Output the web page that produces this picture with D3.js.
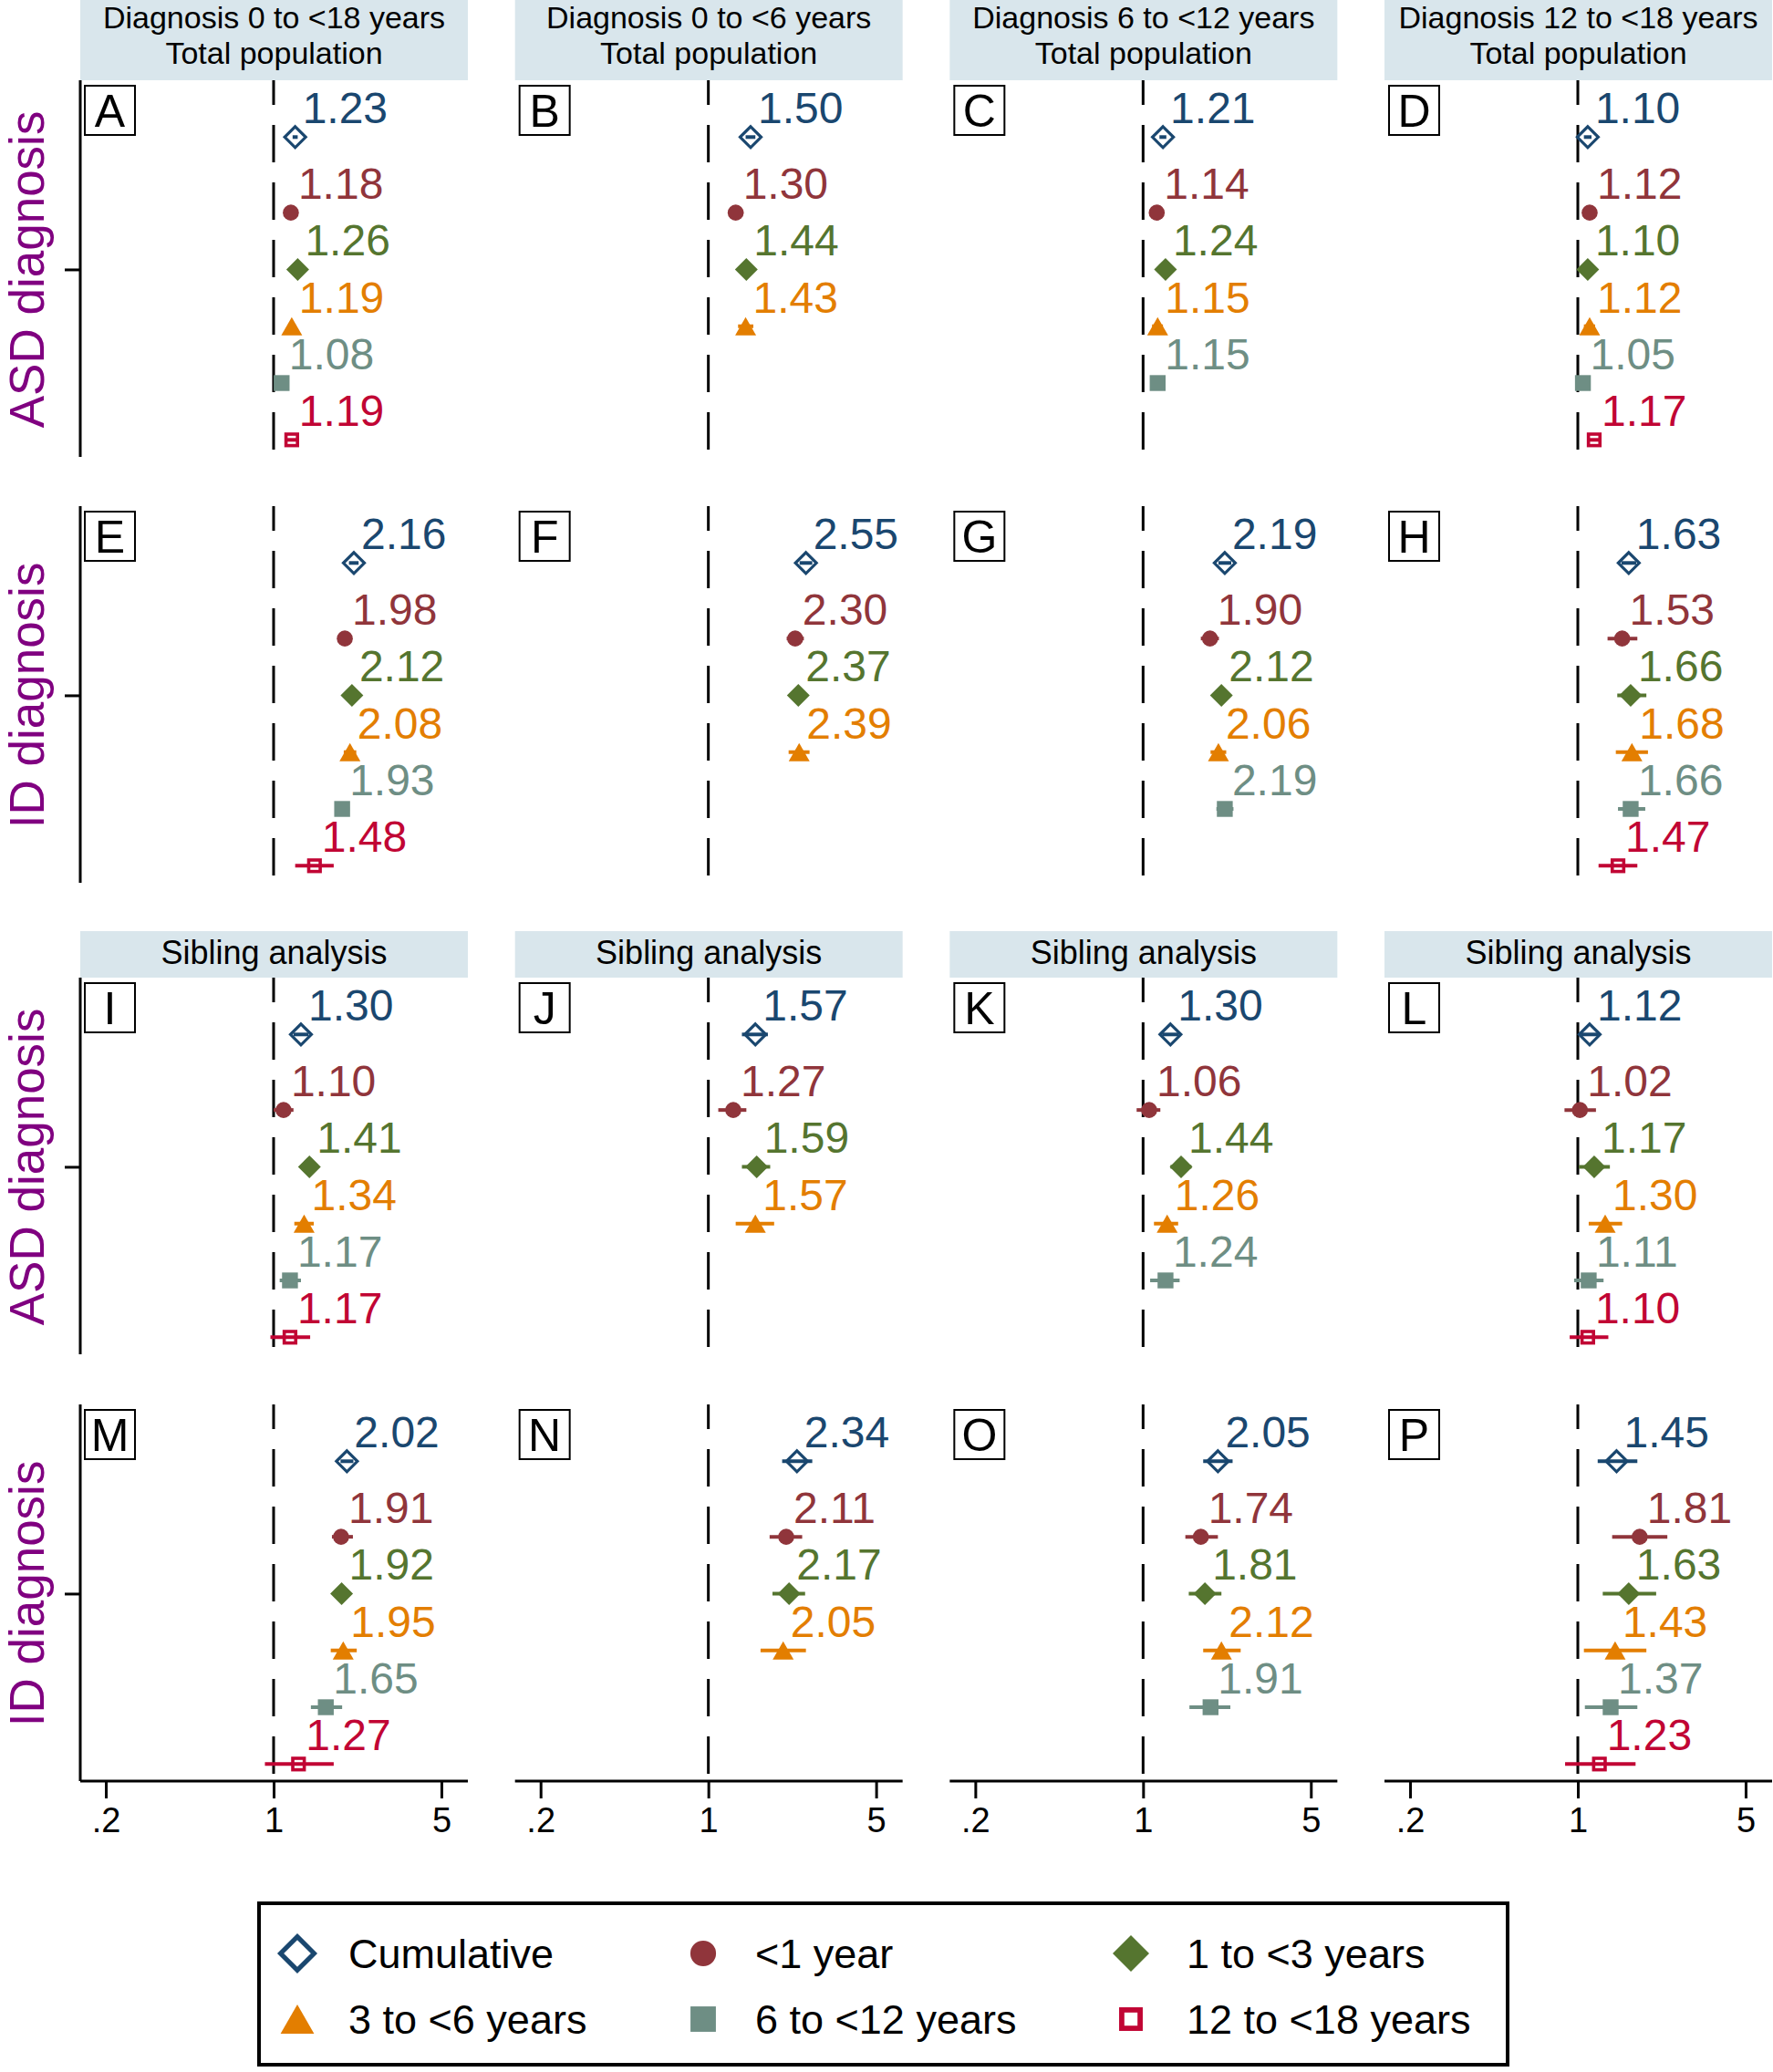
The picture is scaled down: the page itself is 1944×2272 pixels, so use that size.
<!DOCTYPE html>
<html>
<head>
<meta charset="utf-8">
<script src="https://cdn.jsdelivr.net/npm/d3@7"></script>
<style>
  html, body { margin: 0; padding: 0; background: #ffffff; }
  svg text { font-family: "Liberation Sans", Arial, Helvetica, sans-serif; }
</style>
</head>
<body>
<div id="chart"></div>
<script>
// ---------------- DATA ----------------
const columnTitles = [
  ["Diagnosis 0 to <18 years", "Total population"],
  ["Diagnosis 0 to <6 years", "Total population"],
  ["Diagnosis 6 to <12 years", "Total population"],
  ["Diagnosis 12 to <18 years", "Total population"]
];
const siblingTitle = "Sibling analysis";
const rowLabels = ["ASD diagnosis", "ID diagnosis", "ASD diagnosis", "ID diagnosis"];
const panelLetters = ["A","B","C","D","E","F","G","H","I","J","K","L","M","N","O","P"];
const seriesNames = ["Cumulative", "<1 year", "1 to <3 years", "3 to <6 years", "6 to <12 years", "12 to <18 years"];
const xTickValues = [0.2, 1, 5];
const xTickLabels = [".2", "1", "5"];

// hazard ratio point estimates per panel (A..P), one value per series (missing series omitted)
const estimates = [
  [1.23, 1.18, 1.26, 1.19, 1.08, 1.19],
  [1.50, 1.30, 1.44, 1.43],
  [1.21, 1.14, 1.24, 1.15, 1.15],
  [1.10, 1.12, 1.10, 1.12, 1.05, 1.17],
  [2.16, 1.98, 2.12, 2.08, 1.93, 1.48],
  [2.55, 2.30, 2.37, 2.39],
  [2.19, 1.90, 2.12, 2.06, 2.19],
  [1.63, 1.53, 1.66, 1.68, 1.66, 1.47],
  [1.30, 1.10, 1.41, 1.34, 1.17, 1.17],
  [1.57, 1.27, 1.59, 1.57],
  [1.30, 1.06, 1.44, 1.26, 1.24],
  [1.12, 1.02, 1.17, 1.30, 1.11, 1.10],
  [2.02, 1.91, 1.92, 1.95, 1.65, 1.27],
  [2.34, 2.11, 2.17, 2.05],
  [2.05, 1.74, 1.81, 2.12, 1.91],
  [1.45, 1.81, 1.63, 1.43, 1.37, 1.23]
];
// lower 95% CI bounds
const lowerCI = [
  [1.20, 1.13, 1.22, 1.15, 1.04, 1.13],
  [1.43, 1.21, 1.36, 1.33],
  [1.17, 1.08, 1.18, 1.09, 1.10],
  [1.06, 1.06, 1.05, 1.06, 1.00, 1.10],
  [2.06, 1.86, 2.01, 1.96, 1.80, 1.23],
  [2.40, 2.12, 2.20, 2.16],
  [2.06, 1.74, 1.98, 1.91, 2.02],
  [1.52, 1.33, 1.46, 1.44, 1.47, 1.22],
  [1.21, 1.00, 1.30, 1.22, 1.06, 0.97],
  [1.38, 1.10, 1.38, 1.30],
  [1.20, 0.94, 1.30, 1.11, 1.07],
  [1.03, 0.88, 1.01, 1.11, 0.965, 0.925],
  [1.90, 1.75, 1.80, 1.73, 1.43, 0.92],
  [2.03, 1.80, 1.85, 1.65],
  [1.78, 1.50, 1.55, 1.78, 1.56],
  [1.21, 1.39, 1.27, 1.06, 1.07, 0.885]
];
// upper 95% CI bounds
const upperCI = [
  [1.26, 1.23, 1.30, 1.23, 1.12, 1.25],
  [1.57, 1.40, 1.53, 1.54],
  [1.25, 1.20, 1.30, 1.21, 1.21],
  [1.14, 1.18, 1.15, 1.18, 1.10, 1.24],
  [2.26, 2.11, 2.24, 2.21, 2.07, 1.78],
  [2.71, 2.50, 2.55, 2.64],
  [2.33, 2.07, 2.27, 2.22, 2.38],
  [1.75, 1.77, 1.93, 1.96, 1.91, 1.77],
  [1.40, 1.21, 1.53, 1.47, 1.30, 1.42],
  [1.77, 1.44, 1.81, 1.88],
  [1.41, 1.18, 1.59, 1.40, 1.42],
  [1.22, 1.19, 1.36, 1.53, 1.28, 1.34],
  [2.15, 2.14, 2.05, 2.22, 1.93, 1.78],
  [2.71, 2.46, 2.53, 2.55],
  [2.36, 2.05, 2.12, 2.55, 2.31],
  [1.77, 2.36, 2.12, 1.93, 1.77, 1.74]
];
const seriesRowPos = [1, 2.33, 3.33, 4.33, 5.33, 6.33];

// ---------------- STYLE / LAYOUT ----------------
const seriesColors = ["#1a476f", "#90353b", "#55752f", "#e37e00", "#6e8e84", "#c10534"];
const labelFont = "\"Liberation Sans\", Arial, Helvetica, sans-serif";
const W = 1944, H = 2272;
const panelW = 425, panelH = 413;
const colLeft = i => 88 + i * 476.67;
const rowTop = [88, 555, 1072, 1540];
const stripBg = "#d9e6ec";

const svg = d3.select("#chart").append("svg")
  .attr("width", W).attr("height", H)
  .attr("viewBox", `0 0 ${W} ${H}`);
svg.append("rect").attr("width", W).attr("height", H).attr("fill", "#fff");

function drawMarker(g, type, x, y, s, color) {
  if (type === 0) {
    const h = 11.5 * s;
    g.append("path").attr("d", `M${x},${y - h}L${x + h},${y}L${x},${y + h}L${x - h},${y}Z`)
      .attr("fill", "none").attr("stroke", color).attr("stroke-width", 3.2 * s);
  } else if (type === 1) {
    g.append("circle").attr("cx", x).attr("cy", y).attr("r", 8.8 * s).attr("fill", color);
  } else if (type === 2) {
    const h = 12.5 * s;
    g.append("path").attr("d", `M${x},${y - h}L${x + h},${y}L${x},${y + h}L${x - h},${y}Z`)
      .attr("fill", color);
  } else if (type === 3) {
    const w = 11.5 * s, hh = 10 * s;
    g.append("path").attr("d", `M${x},${y - hh}L${x + w},${y + hh}L${x - w},${y + hh}Z`)
      .attr("fill", color);
  } else if (type === 4) {
    const a = 8.7 * s;
    g.append("rect").attr("x", x - a).attr("y", y - a).attr("width", 2 * a).attr("height", 2 * a)
      .attr("fill", color);
  } else if (type === 5) {
    const a = 6.3 * s;
    g.append("rect").attr("x", x - a).attr("y", y - a).attr("width", 2 * a).attr("height", 2 * a)
      .attr("fill", "none").attr("stroke", color).attr("stroke-width", 3.6 * s);
  }
}

// ---------------- STRIP HEADERS ----------------
for (let c = 0; c < 4; c++) {
  const left = colLeft(c);
  svg.append("rect").attr("x", left).attr("y", 0).attr("width", panelW).attr("height", 88)
    .attr("fill", stripBg);
  columnTitles[c].forEach((line, k) => {
    svg.append("text").attr("x", left + panelW / 2).attr("y", 31 + k * 39)
      .attr("text-anchor", "middle").attr("font-size", 34).attr("fill", "#000").text(line);
  });
  svg.append("rect").attr("x", left).attr("y", 1021).attr("width", panelW).attr("height", 51)
    .attr("fill", stripBg);
  svg.append("text").attr("x", left + panelW / 2).attr("y", 1057)
    .attr("text-anchor", "middle").attr("font-size", 36).attr("fill", "#000").text(siblingTitle);
}

// ---------------- PANELS ----------------
for (let r = 0; r < 4; r++) {
  for (let c = 0; c < 4; c++) {
    const p = r * 4 + c;
    const left = colLeft(c), top = rowTop[r];
    const x = d3.scaleLog().domain([0.1565, 6.447]).range([left, left + panelW]);
    const y = d3.scaleLinear().domain([0, 6.63]).range([top, top + panelH]);
    const g = svg.append("g");

    // reference line at HR = 1
    g.append("line").attr("x1", x(1)).attr("x2", x(1)).attr("y1", top).attr("y2", top + panelH)
      .attr("stroke", "#000").attr("stroke-width", 3)
      .attr("stroke-dasharray", "41,22").attr("stroke-dashoffset", 14);

    // left axis for first column
    if (c === 0) {
      const yAxis = d3.axisLeft(y).tickValues([seriesRowPos[2]]).tickFormat("")
        .tickSize(17).tickSizeOuter(0);
      const ga = g.append("g").attr("transform", `translate(${left},0)`).call(yAxis);
      ga.select(".domain").attr("stroke", "#000").attr("stroke-width", 3)
        .attr("d", `M0,${top}V${top + panelH}`);
      ga.selectAll(".tick line").attr("stroke", "#000").attr("stroke-width", 3);
      // row label
      svg.append("text")
        .attr("transform", `translate(48,${y(seriesRowPos[2])}) rotate(-90)`)
        .attr("text-anchor", "middle").attr("font-size", 53).attr("fill", "#800080")
        .text(rowLabels[r]);
    }

    // bottom axis for last row
    if (r === 3) {
      const xAxis = d3.axisBottom(x).tickValues(xTickValues)
        .tickFormat((d, i) => xTickLabels[i]).tickSize(19).tickSizeOuter(0).tickPadding(10);
      const gx = g.append("g").attr("transform", `translate(0,${top + panelH})`).call(xAxis);
      gx.select(".domain").attr("stroke", "#000").attr("stroke-width", 3)
        .attr("d", `M${left},0H${left + panelW}`);
      gx.selectAll(".tick line").attr("stroke", "#000").attr("stroke-width", 3);
      gx.selectAll(".tick text").attr("font-size", 38).attr("fill", "#000")
        .attr("font-family", labelFont).attr("dy", "0.71em");
    }

    // panel letter box
    g.append("rect").attr("x", left + 5).attr("y", top + 6).attr("width", 55).attr("height", 54)
      .attr("fill", "#fff").attr("stroke", "#000").attr("stroke-width", 2);
    g.append("text").attr("x", left + 32.5).attr("y", top + 51)
      .attr("text-anchor", "middle").attr("font-size", 50).attr("fill", "#000")
      .text(panelLetters[p]);

    // CI lines, markers, labels
    estimates[p].forEach((est, s) => {
      const yy = y(seriesRowPos[s]);
      g.append("line").attr("x1", x(lowerCI[p][s])).attr("x2", x(upperCI[p][s]))
        .attr("y1", yy).attr("y2", yy)
        .attr("stroke", seriesColors[s]).attr("stroke-width", 4);
      drawMarker(g, s, x(est), yy, 1, seriesColors[s]);
      g.append("text").attr("x", x(est) + 8).attr("y", yy - 15)
        .attr("font-size", 48).attr("fill", seriesColors[s])
        .text(est.toFixed(2));
    });
  }
}

// ---------------- LEGEND ----------------
const lg = svg.append("g");
lg.append("rect").attr("x", 284).attr("y", 2087).attr("width", 1369).attr("height", 177)
  .attr("fill", "#fff").attr("stroke", "#000").attr("stroke-width", 4);
const legSymX = [326, 771, 1240];
const legTextX = [382, 828, 1301];
const legRowY = [2142, 2214];
seriesNames.forEach((name, s) => {
  const col = s % 3, row = Math.floor(s / 3);
  drawMarker(lg, s, legSymX[col], legRowY[row], 1.6, seriesColors[s]);
  lg.append("text").attr("x", legTextX[col]).attr("y", legRowY[row] + 16)
    .attr("font-size", 45).attr("fill", "#000").text(name);
});
</script>
</body>
</html>
